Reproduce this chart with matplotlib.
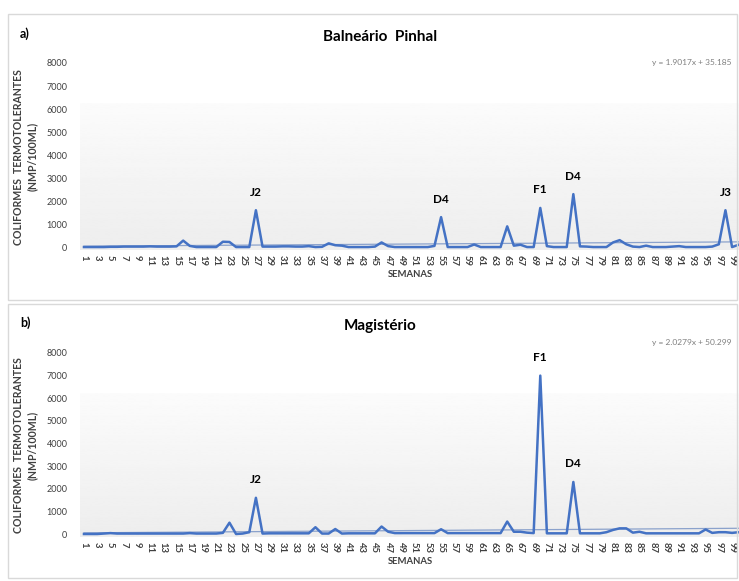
import numpy as np
import matplotlib
matplotlib.use("Agg")
import matplotlib.pyplot as plt
from matplotlib.patches import Rectangle

plt.rcParams["font.family"] = ["Lato", "DejaVu Sans"]

# weekly thermotolerant coliform counts (NMP/100 mL)
semanas = list(range(1, 101))

pinhal = [
    0, 0, 0, 0, 10, 10, 20, 20, 20, 20,
    30, 20, 20, 20, 30, 280, 50, 0, 0, 0,
    0, 230, 220, 0, 0, 0, 1600, 20, 20, 20,
    30, 30, 20, 20, 40, 0, 10, 160, 80, 60,
    0, 0, 0, 0, 20, 200, 40, 0, 0, 0,
    0, 0, 0, 50, 1300, 0, 0, 0, 0, 110,
    0, 0, 0, 0, 900, 60, 100, 0, 0, 1700,
    40, 0, 0, 0, 2300, 30, 20, 0, 0, 0,
    200, 300, 120, 20, 0, 60, 0, 0, 0, 20,
    40, 0, 0, 0, 0, 20, 120, 1600, 0, 100,
]

magisterio = [
    0, 0, 0, 20, 40, 20, 20, 20, 20, 20,
    20, 20, 20, 20, 20, 20, 40, 20, 20, 20,
    20, 50, 500, 0, 20, 80, 1600, 20, 30, 30,
    30, 30, 30, 30, 30, 300, 20, 20, 220, 20,
    30, 30, 30, 30, 30, 330, 100, 40, 40, 40,
    40, 40, 40, 40, 210, 40, 40, 40, 40, 40,
    40, 40, 40, 40, 550, 100, 100, 60, 40, 7000,
    30, 30, 30, 30, 2300, 30, 30, 30, 30, 80,
    180, 250, 250, 60, 100, 30, 30, 30, 30, 30,
    30, 30, 30, 30, 200, 50, 80, 80, 50, 80,
]

# linear trend coefficients (slope, intercept)
trend_pinhal = (1.9017, 35.185)
trend_magisterio = (2.0279, 50.299)

# peak labels: (week, label)
labels_pinhal = [(27, "J2"), (55, "D4"), (70, "F1"), (75, "D4"), (98, "J3")]
labels_magisterio = [(27, "J2"), (70, "F1"), (75, "D4")]

LINE = "#4472c4"
TREND = "#8ba2cc"

W, H = 739, 581
fig = plt.figure(figsize=(W / 100, H / 100), dpi=100)


def px_axes(x0, y_top, x1, y_bot):
    return fig.add_axes([x0 / W, 1 - y_bot / H, (x1 - x0) / W, (y_bot - y_top) / H])


def panel(y_top, y_bot, frame, tag, title, eq_y, values, trend, peaks, title_y):
    fig.add_artist(Rectangle((8 / W, 1 - frame[1] / H), 729 / W, (frame[1] - frame[0]) / H,
                             transform=fig.transFigure, fill=False,
                             edgecolor="#d9d9d9", linewidth=1.0))
    ax = px_axes(80, y_top, 740, y_bot)
    ax.set_xlim(0.4, 100.2)
    ax.set_ylim(-150, 8000)

    grad = np.linspace(0.93, 0.985, 256).reshape(-1, 1)
    ax.imshow(grad, extent=(0.4, 100.2, -150, 6200), origin="lower", aspect="auto",
              cmap="gray", vmin=0, vmax=1, zorder=0)

    x = np.array(semanas)
    ax.plot(x, values, color=LINE, linewidth=1.8, zorder=3)
    slope, icpt = trend
    ax.plot(x, slope * x + icpt, color=TREND, linewidth=0.9, zorder=2)

    for wk, lab in peaks:
        ax.annotate(lab, (wk, values[wk - 1]), xytext=(0, 9), textcoords="offset points",
                    ha="center", va="bottom", fontsize=8.5, fontweight="bold")

    for s in ax.spines.values():
        s.set_visible(False)
    ax.set_yticks(range(0, 8001, 1000))
    ax.set_xticks(semanas[::2])
    ax.set_xticklabels([str(v) for v in semanas[::2]], rotation=270, fontsize=6.8,
                       fontweight="bold", color="#404040")
    ax.tick_params(axis="y", length=0, labelsize=6.5, colors="#404040", pad=9)
    ax.tick_params(axis="x", length=0, pad=3)
    ax.set_xlabel("SEMANAS", fontsize=6.8, fontweight="bold", color="#404040", labelpad=3)
    ax.set_ylabel("COLIFORMES  TERMOTOLERANTES\n(NMP/100ML)", fontsize=7.6,
                  fontweight="bold", color="#404040", labelpad=6, linespacing=1.3)

    fig.text(20 / W, 1 - title_y / H, tag, fontsize=9, fontweight="bold", va="center")
    fig.text(380 / W, 1 - (title_y + 3) / H, title, fontsize=11, fontweight="bold",
             ha="center", va="center")
    fig.text(732 / W, 1 - eq_y / H, "y = %.4fx + %.3f" % trend, fontsize=6,
             color="#7f7f7f", ha="right", va="center")
    return ax


panel(63, 250.5, (14, 300), "a)", "Balneário  Pinhal", 62, pinhal, trend_pinhal,
      labels_pinhal, 34)
panel(353, 537.4, (304, 578), "b)", "Magistério", 343, magisterio, trend_magisterio,
      labels_magisterio, 323)

fig.savefig("out.png", dpi=100)
